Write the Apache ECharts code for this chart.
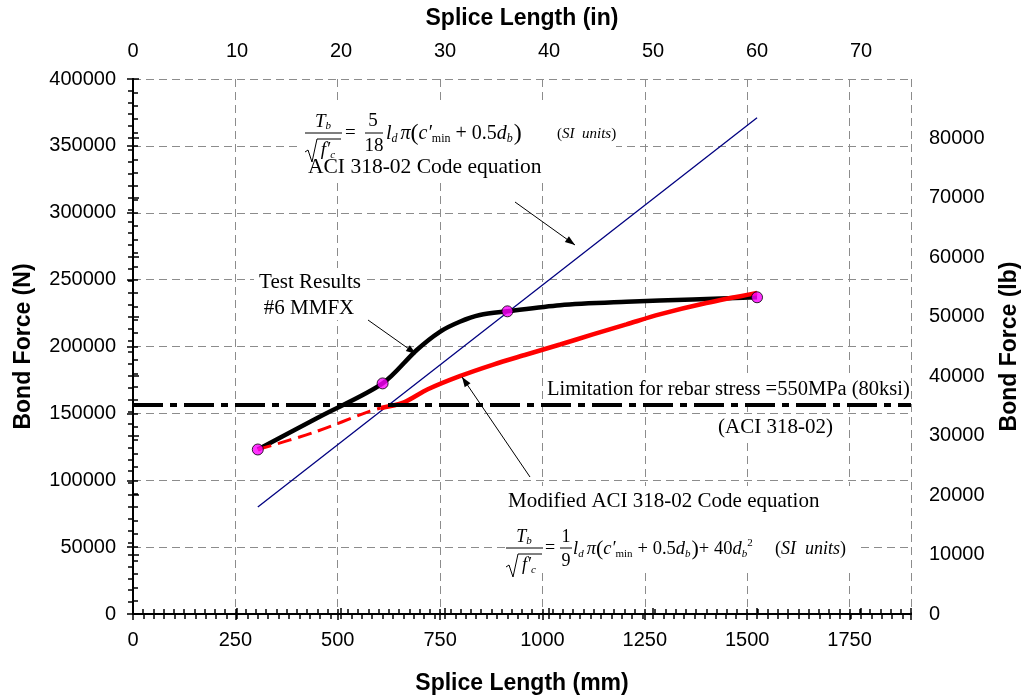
<!DOCTYPE html>
<html><head><meta charset="utf-8">
<script src="https://cdn.jsdelivr.net/npm/echarts@6/dist/echarts.min.js"></script>
<style>html,body{margin:0;padding:0;background:#fff}#c{width:1029px;height:700px}</style>
</head><body><div id="c"></div>
<script>
// ---- data (mm, N) ----
const mmRange = [0, 1900], mmStep = 250, mmMinor = 25;
const nRange = [0, 400000], nStep = 50000, nMinor = 10000;
const inStep = 10, inMinor = 1;
const lbStep = 10000, lbMinor = 2000;
const MM_PER_IN = 25.4, N_PER_LB = 4.44822;

const testX = [304.8, 457, 609.6, 693, 749.5, 798, 847, 914.4, 1043, 1205, 1367, 1524];
const testY = [123000, 147700, 172400, 197400, 211000, 218500, 223500, 226300, 230900, 233400, 235200, 236800];
const specX = [304.8, 609.6, 914.4, 1524];
const specY = [123000, 172400, 226300, 236800];
const aciX = [304.8, 1524];
const aciY = [80000, 371000];
const modDashX = [304.8, 440, 579, 605];
const modDashY = [123000, 135600, 151700, 154000];
const modX = [605, 660, 720, 798, 880, 961, 1043, 1123, 1205, 1286, 1400, 1524];
const modY = [154000, 158000, 168000, 177800, 186500, 194000, 201500, 209000, 216500, 224000, 232500, 240000];
const limitX = [0, 1900];
const limitY = [156200, 156200];

const pairs = (xs, ys) => xs.map((x, i) => [x, ys[i]]);

// ---- helpers for annotation text ----
const SERIF = '"Liberation Serif","Times New Roman",serif';
const cv = document.createElement('canvas').getContext('2d');
function fnt(s, it) { return (it ? 'italic ' : '') + s + 'px ' + SERIF; }
function meas(t, s, it) { cv.font = fnt(s, it); return cv.measureText(t).width; }
const G = [];
function txt(t, x, y, s, it, align) {
  G.push({type: 'text', x: x, y: y, z: 100,
    style: {text: t, font: fnt(s, it), fill: '#000', textAlign: align || 'left', align: align || 'left',
      textVerticalAlign: 'middle', verticalAlign: 'middle'}});
}
function run(tokens, x, y, center) {
  let total = 0;
  tokens.forEach(k => total += meas(k[0], k[1], k[2]) + (k[4] || 0));
  let cx = center ? x - total / 2 : x;
  tokens.forEach(k => { txt(k[0], cx, y + (k[3] || 0), k[1], k[2]); cx += meas(k[0], k[1], k[2]) + (k[4] || 0); });
  return cx;
}
function hline(x1, x2, y) {
  G.push({type: 'line', z: 100, shape: {x1: x1, y1: y, x2: x2, y2: y}, style: {stroke: '#000', lineWidth: 1}});
}
function rect(x, y, w, h) {
  G.push({type: 'rect', z: 99, shape: {x: x, y: y, width: w, height: h}, style: {fill: '#fff'}});
}
function radical(x, yTop, x2, yBot) {
  G.push({type: 'polyline', z: 100, shape: {points: [[x, yBot - 10], [x + 3, yBot - 12], [x + 7, yBot], [x + 12, yTop], [x2, yTop]]},
    style: {stroke: '#000', lineWidth: 1, fill: null}});
}
function arrow(x1, y1, x2, y2) {
  G.push({type: 'line', z: 100, shape: {x1: x1, y1: y1, x2: x2, y2: y2}, style: {stroke: '#000', lineWidth: 1}});
  const a = Math.atan2(y2 - y1, x2 - x1), L = 10, W = 3.5;
  const bx = x2 - L * Math.cos(a), by = y2 - L * Math.sin(a);
  G.push({type: 'polygon', z: 100, shape: {points: [[x2, y2], [bx - W * Math.sin(a), by + W * Math.cos(a)], [bx + W * Math.sin(a), by - W * Math.cos(a)]]},
    style: {fill: '#000'}});
}
function fracLHS(cx, barY, s) {
  run([['T', s, true], ['b', 11, true, 4]], cx, barY - 11, true);
  hline(cx - 18, cx + 19, barY);
  radical(cx - 18, barY + 6, cx + 18, barY + 29);
  run([['f′', s, true], ['c', 11, true, 5]], cx + 5, barY + 17, true);
}

// equation 1 + label
rect(298, 104, 318, 76);
fracLHS(323, 133, 19);
txt('=', 345, 133, 19, false);
txt('5', 373, 121, 19, false, 'center');
hline(365, 383, 133);
txt('18', 374, 146, 19, false, 'center');
run([['l', 20, true], ['d', 12, true, 5, 3], ['π', 20, true], ['(', 24, false], ['c′', 20, true], ['min', 12, false, 5, 5],
  ['+ 0.5', 20, false], ['d', 20, true], ['b', 12, true, 5, 1], [')', 24, false]], 386, 134, false);
run([['(', 15, false], ['SI  units', 15, true], [')', 15, false]], 557, 134, false);
txt('ACI 318-02 Code equation', 308, 167, 21.5, false);

// Test results label
rect(254, 268, 112, 52);
txt('Test Results', 310, 282, 21, false, 'center');
txt('#6 MMFX', 309, 308, 21, false, 'center');

// limitation label
rect(543, 377, 362, 24);
txt('Limitation for rebar stress =550MPa (80ksi)', 547, 390, 20.5, false);
rect(714, 416, 126, 23);
txt('(ACI 318-02)', 718, 427, 21, false);

// modified equation
rect(506, 486, 352, 86);
txt('Modified ACI 318-02 Code equation', 508, 501, 21, false);
fracLHS(524, 548, 18);
txt('=', 545, 548, 18, false);
txt('1', 566, 537, 18, false, 'center');
hline(560, 572, 548);
txt('9', 566, 561, 18, false, 'center');
run([['l', 18.5, true], ['d', 11, true, 5, 3], ['π', 18.5, true], ['(', 22, false], ['c′', 18.5, true], ['min', 11, false, 5, 5],
  ['+ 0.5', 18.5, false], ['d', 18.5, true], ['b', 11, true, 5, 1], [')', 22, false], ['+ 40', 18.5, false], ['d', 18.5, true],
  ['b', 11, true, 5], ['2', 11, false, -6]], 573, 549, false);
run([['(', 18, false], ['SI  units', 18, true], [')', 18, false]], 775, 549, false);

// arrows
arrow(515, 202, 575, 245);
arrow(368, 320, 416, 354);
arrow(530, 477, 462, 377);

// ---- axes ----
const SANS = '"Liberation Sans", Arial, sans-serif';
const axLine = {lineStyle: {color: '#000', width: 2}};
const lab = {fontSize: 20, fontFamily: SANS, color: '#000'};
const nameStyle = {fontSize: 23, fontWeight: 'bold', fontFamily: SANS, color: '#000'};
const split = {show: true, lineStyle: {type: [8, 5], color: '#8c8c8c', width: 1}};
const tickOut = {show: true, inside: false, length: 6, lineStyle: {color: '#000', width: 1.5}};
const tickIn = {show: true, inside: true, length: 5, lineStyle: {color: '#000', width: 1.5}};
const multOf = s => v => (Math.abs(v / s - Math.round(v / s)) < 1e-6 ? String(Math.round(v)) : '');
const inMax = mmRange[1] / MM_PER_IN, lbMax = nRange[1] / N_PER_LB;

const xAxis = [
  {type: 'value', position: 'bottom', min: mmRange[0], max: mmRange[1], interval: mmStep, axisLine: axLine, axisTick: tickOut,
   axisLabel: Object.assign({margin: 16, formatter: multOf(mmStep)}, lab), splitLine: split,
   name: 'Splice Length (mm)', nameLocation: 'middle', nameGap: 58, nameTextStyle: nameStyle},
  {type: 'value', position: 'bottom', min: mmRange[0], max: mmRange[1], interval: mmMinor, axisLine: {show: false}, axisTick: tickIn,
   axisLabel: {show: false}, splitLine: {show: false}},
  {type: 'value', position: 'top', min: 0, max: inMax, interval: inStep, axisLine: axLine, axisTick: tickOut,
   axisLabel: Object.assign({margin: 18, formatter: multOf(inStep)}, lab), splitLine: {show: false},
   name: 'Splice Length (in)', nameLocation: 'middle', nameGap: 49, nameTextStyle: nameStyle},
  {type: 'value', position: 'top', min: 0, max: inMax, interval: inMinor, axisLine: {show: false}, axisTick: tickIn,
   axisLabel: {show: false}, splitLine: {show: false}}
];
const yAxis = [
  {type: 'value', position: 'left', min: nRange[0], max: nRange[1], interval: nStep, axisLine: axLine, axisTick: tickOut,
   axisLabel: Object.assign({margin: 17, formatter: multOf(nStep)}, lab), splitLine: split,
   name: 'Bond Force (N)', nameLocation: 'middle', nameRotate: 90, nameGap: 98, nameTextStyle: nameStyle},
  {type: 'value', position: 'left', min: nRange[0], max: nRange[1], interval: nMinor, axisLine: {show: false}, axisTick: tickIn,
   axisLabel: {show: false}, splitLine: {show: false}},
  {type: 'value', position: 'right', min: 0, max: lbMax, interval: lbStep, axisLine: axLine, axisTick: tickOut,
   axisLabel: Object.assign({margin: 18, formatter: multOf(lbStep)}, lab), splitLine: {show: false},
   name: 'Bond Force (lb)', nameLocation: 'middle', nameRotate: 90, nameGap: 87, nameTextStyle: nameStyle},
  {type: 'value', position: 'right', min: 0, max: lbMax, interval: lbMinor, axisLine: {show: false}, axisTick: tickIn,
   axisLabel: {show: false}, splitLine: {show: false}}
];

const base = {type: 'line', xAxisIndex: 0, yAxisIndex: 0, showSymbol: false, symbol: 'none', silent: true};
const series = [
  Object.assign({}, base, {name: 'ACI', z: 3, data: pairs(aciX, aciY), lineStyle: {color: '#000080', width: 1.3}}),
  Object.assign({}, base, {name: 'Test', z: 4, smooth: 0.3, data: pairs(testX, testY), lineStyle: {color: '#000', width: 4.5}}),
  Object.assign({}, base, {name: 'ModDash', z: 5, smooth: 0.3, data: pairs(modDashX, modDashY), lineStyle: {color: '#ff0000', width: 3, type: [14, 7]}}),
  Object.assign({}, base, {name: 'Mod', z: 5, smooth: 0.3, data: pairs(modX, modY), lineStyle: {color: '#ff0000', width: 4.5}}),
  Object.assign({}, base, {name: 'Limit', z: 6, data: pairs(limitX, limitY), lineStyle: {color: '#000', width: 4, type: [30, 7, 7, 7]}}),
  {type: 'scatter', name: 'Spec', z: 8, xAxisIndex: 0, yAxisIndex: 0, data: pairs(specX, specY), symbol: 'circle', symbolSize: 11,
   itemStyle: {color: '#ff00ff', borderColor: '#000', borderWidth: 1}, silent: true}
];

const chart = echarts.init(document.getElementById('c'), null, {renderer: 'canvas'});
chart.setOption({
  animation: false,
  backgroundColor: '#fff',
  grid: {left: 133, right: 116, top: 79, bottom: 85, containLabel: false},
  xAxis: xAxis, yAxis: yAxis, series: series,
  graphic: {elements: G}
});
</script></body></html>
